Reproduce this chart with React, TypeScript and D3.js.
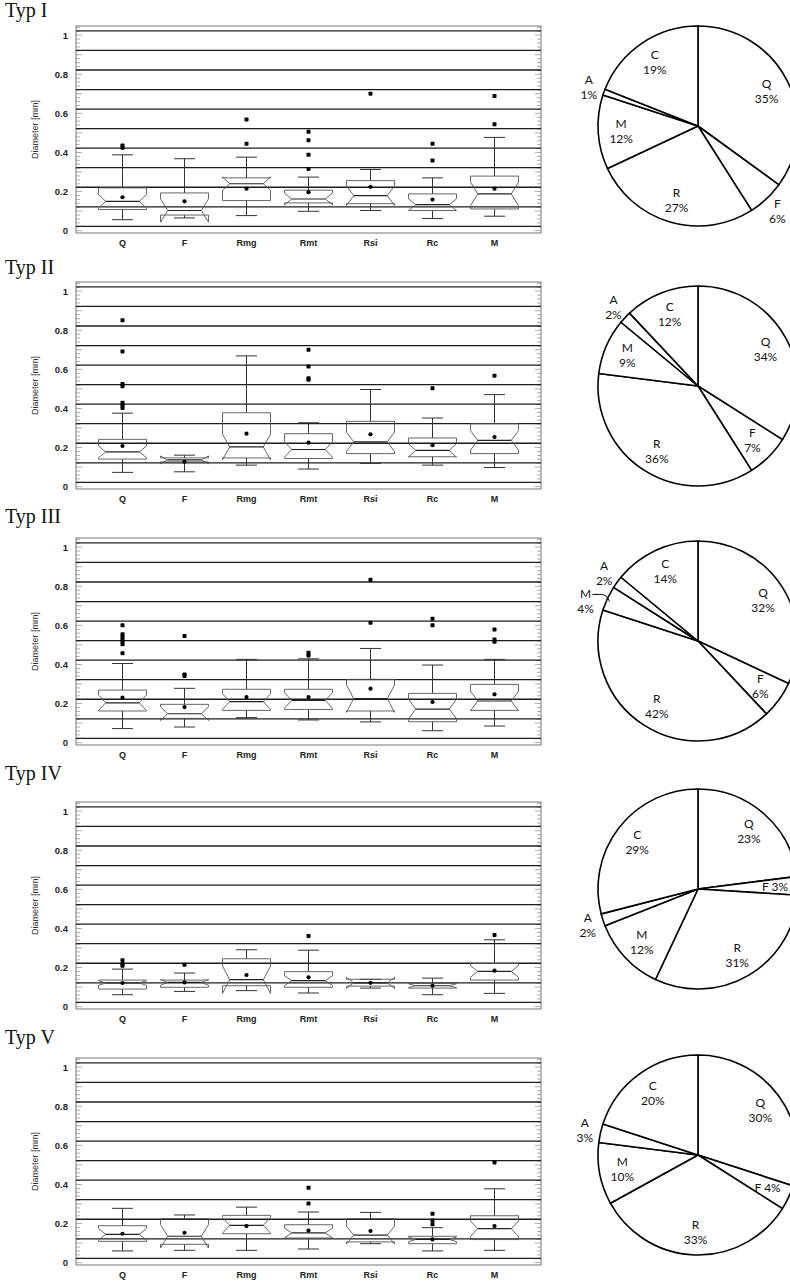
import React from "react";
import * as d3 from "d3";

const categories = ["Q", "F", "Rmg", "Rmt", "Rsi", "Rc", "M"];
const panelTitles = ["Typ I", "Typ II", "Typ III", "Typ IV", "Typ V"];
const yTickValues = [0, 0.2, 0.4, 0.6, 0.8, 1];
const yTickLabels = ["0", "0.2", "0.4", "0.6", "0.8", "1"];
const gridValues = [0.022, 0.122, 0.222, 0.322, 0.422, 0.522, 0.622, 0.722, 0.822, 0.922, 1.022];

// [whiskerLow, q1, median, q3, whiskerHigh, mean, notchHalf]
const typ1Boxes = [
  [0.056, 0.108, 0.15, 0.219, 0.388, 0.171, 0.035],
  [0.065, 0.08, 0.103, 0.193, 0.368, 0.15, 0.06],
  [0.077, 0.154, 0.24, 0.27, 0.376, 0.215, 0.035],
  [0.099, 0.142, 0.162, 0.207, 0.274, 0.197, 0.03],
  [0.103, 0.138, 0.179, 0.256, 0.313, 0.224, 0.05],
  [0.062, 0.103, 0.133, 0.188, 0.27, 0.159, 0.03],
  [0.074, 0.111, 0.188, 0.279, 0.477, 0.215, 0.06],
];
const typ1Outliers = [[0.436, 0.424], [], [0.569, 0.444], [0.506, 0.463, 0.388, 0.316], [0.701], [0.444, 0.359], [0.689, 0.544]];

const typ2Boxes = [
  [0.073, 0.141, 0.178, 0.242, 0.376, 0.208, 0.03],
  [0.076, 0.127, 0.137, 0.147, 0.161, 0.127, 0.02],
  [0.11, 0.147, 0.203, 0.378, 0.669, 0.271, 0.065],
  [0.09, 0.144, 0.19, 0.271, 0.327, 0.225, 0.04],
  [0.119, 0.169, 0.229, 0.334, 0.497, 0.268, 0.05],
  [0.11, 0.153, 0.186, 0.249, 0.351, 0.212, 0.035],
  [0.098, 0.169, 0.237, 0.322, 0.471, 0.254, 0.05],
];
const typ2Outliers = [[0.851, 0.692, 0.525, 0.514, 0.429, 0.415, 0.402], [], [], [0.7, 0.615, 0.554, 0.547], [], [0.503], [0.568]];

const typ3Boxes = [
  [0.072, 0.162, 0.204, 0.269, 0.405, 0.23, 0.04],
  [0.08, 0.124, 0.148, 0.196, 0.278, 0.182, 0.035],
  [0.128, 0.165, 0.21, 0.273, 0.426, 0.233, 0.04],
  [0.116, 0.17, 0.216, 0.273, 0.429, 0.233, 0.04],
  [0.106, 0.162, 0.225, 0.324, 0.482, 0.276, 0.07],
  [0.061, 0.107, 0.172, 0.252, 0.397, 0.208, 0.05],
  [0.085, 0.165, 0.213, 0.298, 0.426, 0.247, 0.05],
];
const typ3Outliers = [[0.601, 0.554, 0.54, 0.528, 0.516, 0.503, 0.457], [0.545, 0.349, 0.341], [], [0.46, 0.446], [0.833, 0.613], [0.634, 0.6], [0.579, 0.528, 0.516]];

const typ4Boxes = [
  [0.061, 0.09, 0.121, 0.136, 0.192, 0.121, 0.012],
  [0.078, 0.099, 0.124, 0.136, 0.172, 0.124, 0.015],
  [0.082, 0.107, 0.138, 0.245, 0.291, 0.162, 0.07],
  [0.07, 0.099, 0.133, 0.179, 0.289, 0.15, 0.025],
  [0.095, 0.105, 0.122, 0.14, 0.14, 0.122, 0.028],
  [0.061, 0.095, 0.107, 0.119, 0.146, 0.107, 0.01],
  [0.068, 0.136, 0.18, 0.221, 0.342, 0.184, 0.03],
];
const typ4Outliers = [[0.238, 0.218, 0.209], [0.214], [], [0.362], [], [], [0.366]];

const typ5Boxes = [
  [0.06, 0.109, 0.145, 0.189, 0.278, 0.148, 0.03],
  [0.063, 0.094, 0.135, 0.225, 0.244, 0.153, 0.06],
  [0.063, 0.148, 0.191, 0.242, 0.284, 0.187, 0.04],
  [0.07, 0.126, 0.152, 0.194, 0.259, 0.164, 0.025],
  [0.097, 0.106, 0.141, 0.225, 0.257, 0.162, 0.045],
  [0.06, 0.097, 0.119, 0.135, 0.179, 0.119, 0.012],
  [0.063, 0.118, 0.174, 0.24, 0.378, 0.187, 0.04],
];
const typ5Outliers = [[], [], [], [0.383, 0.302], [], [0.25, 0.216, 0.196], [0.513]];

const pieLabels = ["Q", "F", "R", "M", "A", "C"];
const typ1Pie = [35, 6, 27, 12, 1, 19];
const typ2Pie = [34, 7, 36, 9, 2, 12];
const typ3Pie = [32, 6, 42, 4, 2, 14];
const typ4Pie = [23, 3, 31, 12, 2, 29];
const typ5Pie = [30, 4, 33, 10, 3, 20];
// label placement: in = inside two lines, out = outside two lines, line = inside one line, lead = outside with leader
const typ1PieModes = ["in", "out", "in", "in", "out", "in"];
const typ2PieModes = ["in", "in", "in", "in", "out", "in"];
const typ3PieModes = ["in", "in", "in", "lead", "out", "in"];
const typ4PieModes = ["in", "line", "in", "in", "out", "in"];
const typ5PieModes = ["in", "line", "in", "in", "out", "in"];

const allBoxes = [typ1Boxes, typ2Boxes, typ3Boxes, typ4Boxes, typ5Boxes];
const allOutliers = [typ1Outliers, typ2Outliers, typ3Outliers, typ4Outliers, typ5Outliers];
const allPies = [typ1Pie, typ2Pie, typ3Pie, typ4Pie, typ5Pie];
const allPieModes = [typ1PieModes, typ2PieModes, typ3PieModes, typ4PieModes, typ5PieModes];

const W = 790;
const H = 1283;
const frameTops = [26, 282, 538, 802, 1058];
const titleBaselines = [17, 274, 523, 780, 1044];
const pieCenters = [126, 386, 641, 889, 1155];
const frameH = 207;
const frameL = 76;
const frameR = 541;
const pieCx = 698;
const pieR = 100;
const sans = "'Liberation Sans', Arial, sans-serif";

function BoxPanel({ idx }: { idx: number }) {
  const top = frameTops[idx];
  const bottom = top + frameH;
  const y = d3.scaleLinear().domain([-0.012, 1.047]).range([bottom, top]);
  const x = d3.scalePoint<string>().domain(categories).range([frameL, frameR]).padding(0.75);
  const boxes = allBoxes[idx];
  const outs = allOutliers[idx];
  const bw = 48;
  const capW = 21;
  const minor = d3.range(0, 1.05, 0.02);
  return (
    <g>
      <text x={5} y={titleBaselines[idx]} fontFamily="'Liberation Serif', 'Times New Roman', serif" fontSize={20} fill="#111">
        {panelTitles[idx]}
      </text>
      <rect x={frameL} y={top} width={frameR - frameL} height={frameH} fill="none" stroke="#777" strokeWidth={1} />
      {minor.map((v, i) => (
        <g key={"m" + i}>
          <line x1={frameL} x2={frameL + (i % 5 === 0 ? 6 : 4)} y1={y(v)} y2={y(v)} stroke="#888" strokeWidth={0.7} />
          <line x1={frameR} x2={frameR - (i % 5 === 0 ? 6 : 4)} y1={y(v)} y2={y(v)} stroke="#888" strokeWidth={0.7} />
        </g>
      ))}
      {gridValues.map((v, i) => (
        <line key={"g" + i} x1={frameL} x2={frameR} y1={y(v)} y2={y(v)} stroke="#1c1c1c" strokeWidth={1.3} />
      ))}
      {yTickValues.map((v, i) => (
        <text key={"t" + i} x={frameL - 8} y={y(v) + 3.5} textAnchor="end" fontFamily={sans} fontWeight="bold" fontSize={9.5} fill="#222">
          {yTickLabels[i]}
        </text>
      ))}
      <text
        transform={`translate(38,${(top + bottom) / 2}) rotate(-90)`}
        textAnchor="middle"
        fontFamily={sans}
        fontSize={9}
        fill="#333"
      >
        Diameter [mm]
      </text>
      {categories.map((c, i) => {
        const cx = x(c) as number;
        const [lo, q1, med, q3, hi, mean, notch] = boxes[i];
        const xl = cx - bw / 2;
        const xr = cx + bw / 2;
        const inset = bw * 0.15;
        const path = d3.path();
        path.moveTo(xl, y(q3));
        path.lineTo(xl, y(med + notch));
        path.lineTo(xl + inset, y(med));
        path.lineTo(xl, y(med - notch));
        path.lineTo(xl, y(q1));
        path.lineTo(xr, y(q1));
        path.lineTo(xr, y(med - notch));
        path.lineTo(xr - inset, y(med));
        path.lineTo(xr, y(med + notch));
        path.lineTo(xr, y(q3));
        path.closePath();
        return (
          <g key={c}>
            <line x1={cx} x2={cx} y1={y(q3)} y2={y(hi)} stroke="#333" strokeWidth={1} />
            <line x1={cx} x2={cx} y1={y(q1)} y2={y(lo)} stroke="#333" strokeWidth={1} />
            <line x1={cx - capW / 2} x2={cx + capW / 2} y1={y(hi)} y2={y(hi)} stroke="#333" strokeWidth={1} />
            <line x1={cx - capW / 2} x2={cx + capW / 2} y1={y(lo)} y2={y(lo)} stroke="#333" strokeWidth={1} />
            <path d={path.toString()} fill="none" stroke="#555" strokeWidth={0.9} />
            <line x1={xl + inset} x2={xr - inset} y1={y(med)} y2={y(med)} stroke="#222" strokeWidth={1.2} />
            <circle cx={cx} cy={y(mean)} r={2.1} fill="#000" />
            {outs[i].map((o, j) => (
              <rect key={j} x={cx - 2} y={y(o) - 2} width={4} height={4} rx={0.8} fill="#000" />
            ))}
            <text x={cx} y={bottom + 13} textAnchor="middle" fontFamily={sans} fontWeight="bold" fontSize={9} fill="#222">
              {c}
            </text>
          </g>
        );
      })}
    </g>
  );
}

function PiePanel({ idx }: { idx: number }) {
  const cy = pieCenters[idx];
  const values = allPies[idx];
  const modes = allPieModes[idx];
  const arcs = d3.pie<number>().sort(null).startAngle(0).endAngle(2 * Math.PI)(values);
  const arcGen = d3.arc<d3.PieArcDatum<number>>().innerRadius(0).outerRadius(pieR);
  const font = "Lato, 'Open Sans', sans-serif";
  return (
    <g transform={`translate(${pieCx},${cy})`}>
      {arcs.map((a, i) => (
        <path key={i} d={arcGen(a) as string} fill="#fff" stroke="#000" strokeWidth={1.6} strokeLinejoin="round" />
      ))}
      {arcs.map((a, i) => {
        const mid = (a.startAngle + a.endAngle) / 2;
        const mode = modes[i];
        const name = pieLabels[i];
        const pct = values[i] + "%";
        const ex = pieR * Math.sin(mid);
        const ey = -pieR * Math.cos(mid);
        if (mode === "lead") {
          const lx = ex - 22;
          return (
            <g key={"l" + i}>
              <path
                d={`M${lx + 7},${ey - 4} L${ex - 6},${ey - 4} Q${ex - 1},${ey - 4} ${ex + 2},${ey + 3}`}
                fill="none"
                stroke="#000"
                strokeWidth={1}
              />
              <text x={lx} y={ey} textAnchor="middle" fontFamily={font} fontSize={12} fill="#111">
                {name}
              </text>
              <text x={lx} y={ey + 15} textAnchor="middle" fontFamily={font} fontSize={12} fill="#111">
                {pct}
              </text>
            </g>
          );
        }
        const k = mode === "out" ? pieR * 1.16 : pieR * 0.77;
        const lx = k * Math.sin(mid);
        const ly = -k * Math.cos(mid);
        if (mode === "line") {
          return (
            <text key={"l" + i} x={lx} y={ly + 4} textAnchor="middle" fontFamily={font} fontSize={12} fill="#111">
              {name + " " + pct}
            </text>
          );
        }
        return (
          <g key={"l" + i}>
            <text x={lx} y={ly - 3} textAnchor="middle" fontFamily={font} fontSize={12} fill="#111">
              {name}
            </text>
            <text x={lx} y={ly + 12} textAnchor="middle" fontFamily={font} fontSize={12} fill="#111">
              {pct}
            </text>
          </g>
        );
      })}
    </g>
  );
}

export default function App() {
  return (
    <svg
      width={W}
      height={H}
      viewBox={`0 0 ${W} ${H}`}
      style={{ position: "absolute", left: 0, top: 0, background: "#fff" }}
    >
      <rect x={0} y={0} width={W} height={H} fill="#fff" />
      {panelTitles.map((_, i) => (
        <g key={i}>
          <BoxPanel idx={i} />
          <PiePanel idx={i} />
        </g>
      ))}
    </svg>
  );
}
